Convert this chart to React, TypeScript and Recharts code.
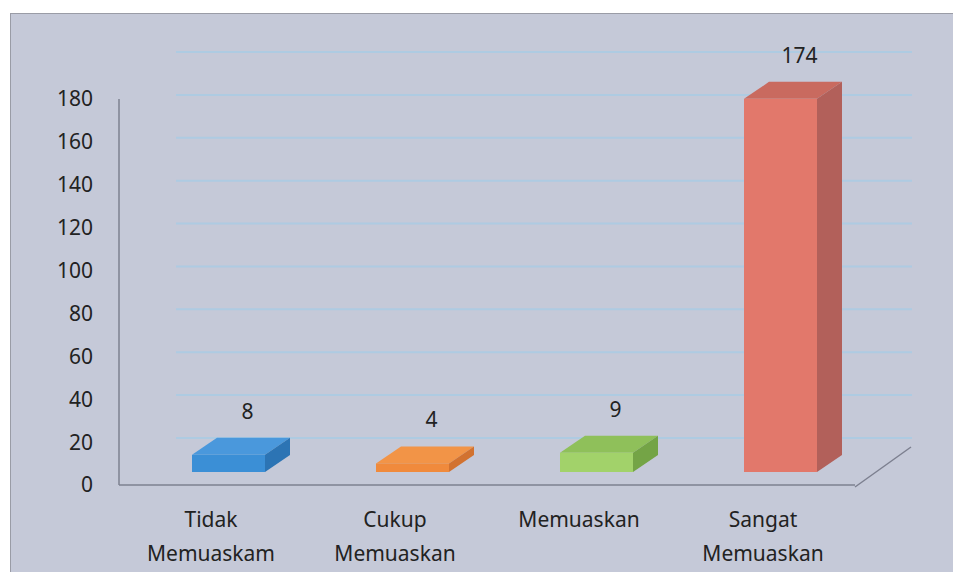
import React from 'react';
import * as Recharts from 'recharts';

const { BarChart, Bar, XAxis, YAxis, CartesianGrid, LabelList } = Recharts;

const categories = ['Tidak Memuaskam', 'Cukup Memuaskan', 'Memuaskan', 'Sangat Memuaskan'];
const counts = [8, 4, 9, 174];
const yTicks = [0, 20, 40, 60, 80, 100, 120, 140, 160, 180];

// front / top / side shades for the fake 3D boxes
const frontColors = ['#3b8fd6', '#f08a3c', '#a2d26a', '#e2786b'];
const topColors = ['#4a98dc', '#f29447', '#8fc05a', '#c96a5f'];
const sideColors = ['#2c74b4', '#d27230', '#74a446', '#b2605a'];

const data = categories.map((name, i) => ({ name, value: counts[i] }));

const FONT = '"Noto Sans", "Open Sans", sans-serif';

// perspective offsets
const OX = 17;
const OY = -13;
const DX = 25;
const DY = -17;

const Box3D = (props: any) => {
  const { x, y, width, height, index } = props;
  const i = typeof index === 'number' ? index : categories.indexOf(props.payload?.name);
  const fx = x + OX;
  const fy = y + OY;
  const w = width;
  const h = height;
  return (
    <g>
      <polygon
        points={`${fx},${fy} ${fx + DX},${fy + DY} ${fx + w + DX},${fy + DY} ${fx + w},${fy}`}
        fill={topColors[i]}
      />
      <polygon
        points={`${fx + w},${fy} ${fx + w + DX},${fy + DY} ${fx + w + DX},${fy + h + DY} ${fx + w},${fy + h}`}
        fill={sideColors[i]}
      />
      <rect x={fx} y={fy} width={w} height={h} fill={frontColors[i]} />
    </g>
  );
};

const ValueLabel = (props: any) => {
  const { x, y, width, value } = props;
  return (
    <text
      x={x + width / 2 + OX + 19}
      y={y + OY + DY - 19}
      textAnchor="middle"
      fontFamily={FONT}
      fontSize={21}
      fill="#222"
    >
      {value}
    </text>
  );
};

const CategoryTick = (props: any) => {
  const { x, y, payload } = props;
  const words = String(payload.value).split(' ');
  const lines = words.length > 1 ? [words[0], words.slice(1).join(' ')] : words;
  return (
    <text x={x} y={y} textAnchor="middle" fontFamily={FONT} fontSize={21} fill="#222">
      {lines.map((l, k) => (
        <tspan key={k} x={x} y={y + 42 + k * 34}>
          {l}
        </tspan>
      ))}
    </text>
  );
};

const FloorEdge = () => {
  const usePA = (Recharts as any).usePlotArea;
  const pa = usePA ? usePA() : undefined;
  if (!pa) return null;
  const x0 = pa.x + pa.width;
  const y0 = pa.y + pa.height + 2;
  return <line x1={x0} y1={y0} x2={x0 + 56} y2={y0 - 40} stroke="#7d8090" strokeWidth={1.5} />;
};

const BackGridLine = (p: any) => (
  <line
    key={p.key ?? `g-${p.index}`}
    x1={p.x1 + 57}
    x2={p.x2 + 57}
    y1={p.y1 - 47}
    y2={p.y2 - 47}
    stroke="#a6cbe6"
    strokeOpacity={0.75}
    strokeWidth={2}
  />
);

export default function App() {
  return (
    <div
      style={{
        marginLeft: 2,
        marginTop: 5,
        marginBottom: -12,
        width: 949,
        height: 568,
        background: '#c5c9d8',
        borderLeft: '1px solid #9a9ca6',
        borderTop: '1px solid #9a9ca6',
        borderBottom: '2px solid #8e909a',
        overflow: 'hidden',
      }}
    >
      <BarChart
        width={953}
        height={568}
        data={data}
        margin={{ top: 85, right: 109, bottom: 0, left: 0 }}
        barSize={73}
      >
        <CartesianGrid vertical={false} horizontal={BackGridLine} />
        <XAxis
          dataKey="name"
          height={97}
          tickLine={false}
          tickSize={0}
          tickMargin={0}
          axisLine={{ stroke: '#7d8090', strokeWidth: 1.5 }}
          tick={<CategoryTick />}
          interval={0}
        />
        <YAxis
          width={108}
          domain={[0, 180]}
          ticks={yTicks}
          tickLine={false}
          tickSize={0}
          tickMargin={26}
          axisLine={{ stroke: '#7d8090', strokeWidth: 1.5 }}
          tick={{ fontFamily: FONT, fontSize: 21, fill: '#222' }}
        />
        <Bar dataKey="value" shape={<Box3D />} isAnimationActive={false}>
          <LabelList dataKey="value" content={<ValueLabel />} />
        </Bar>
        <FloorEdge />
      </BarChart>
    </div>
  );
}
